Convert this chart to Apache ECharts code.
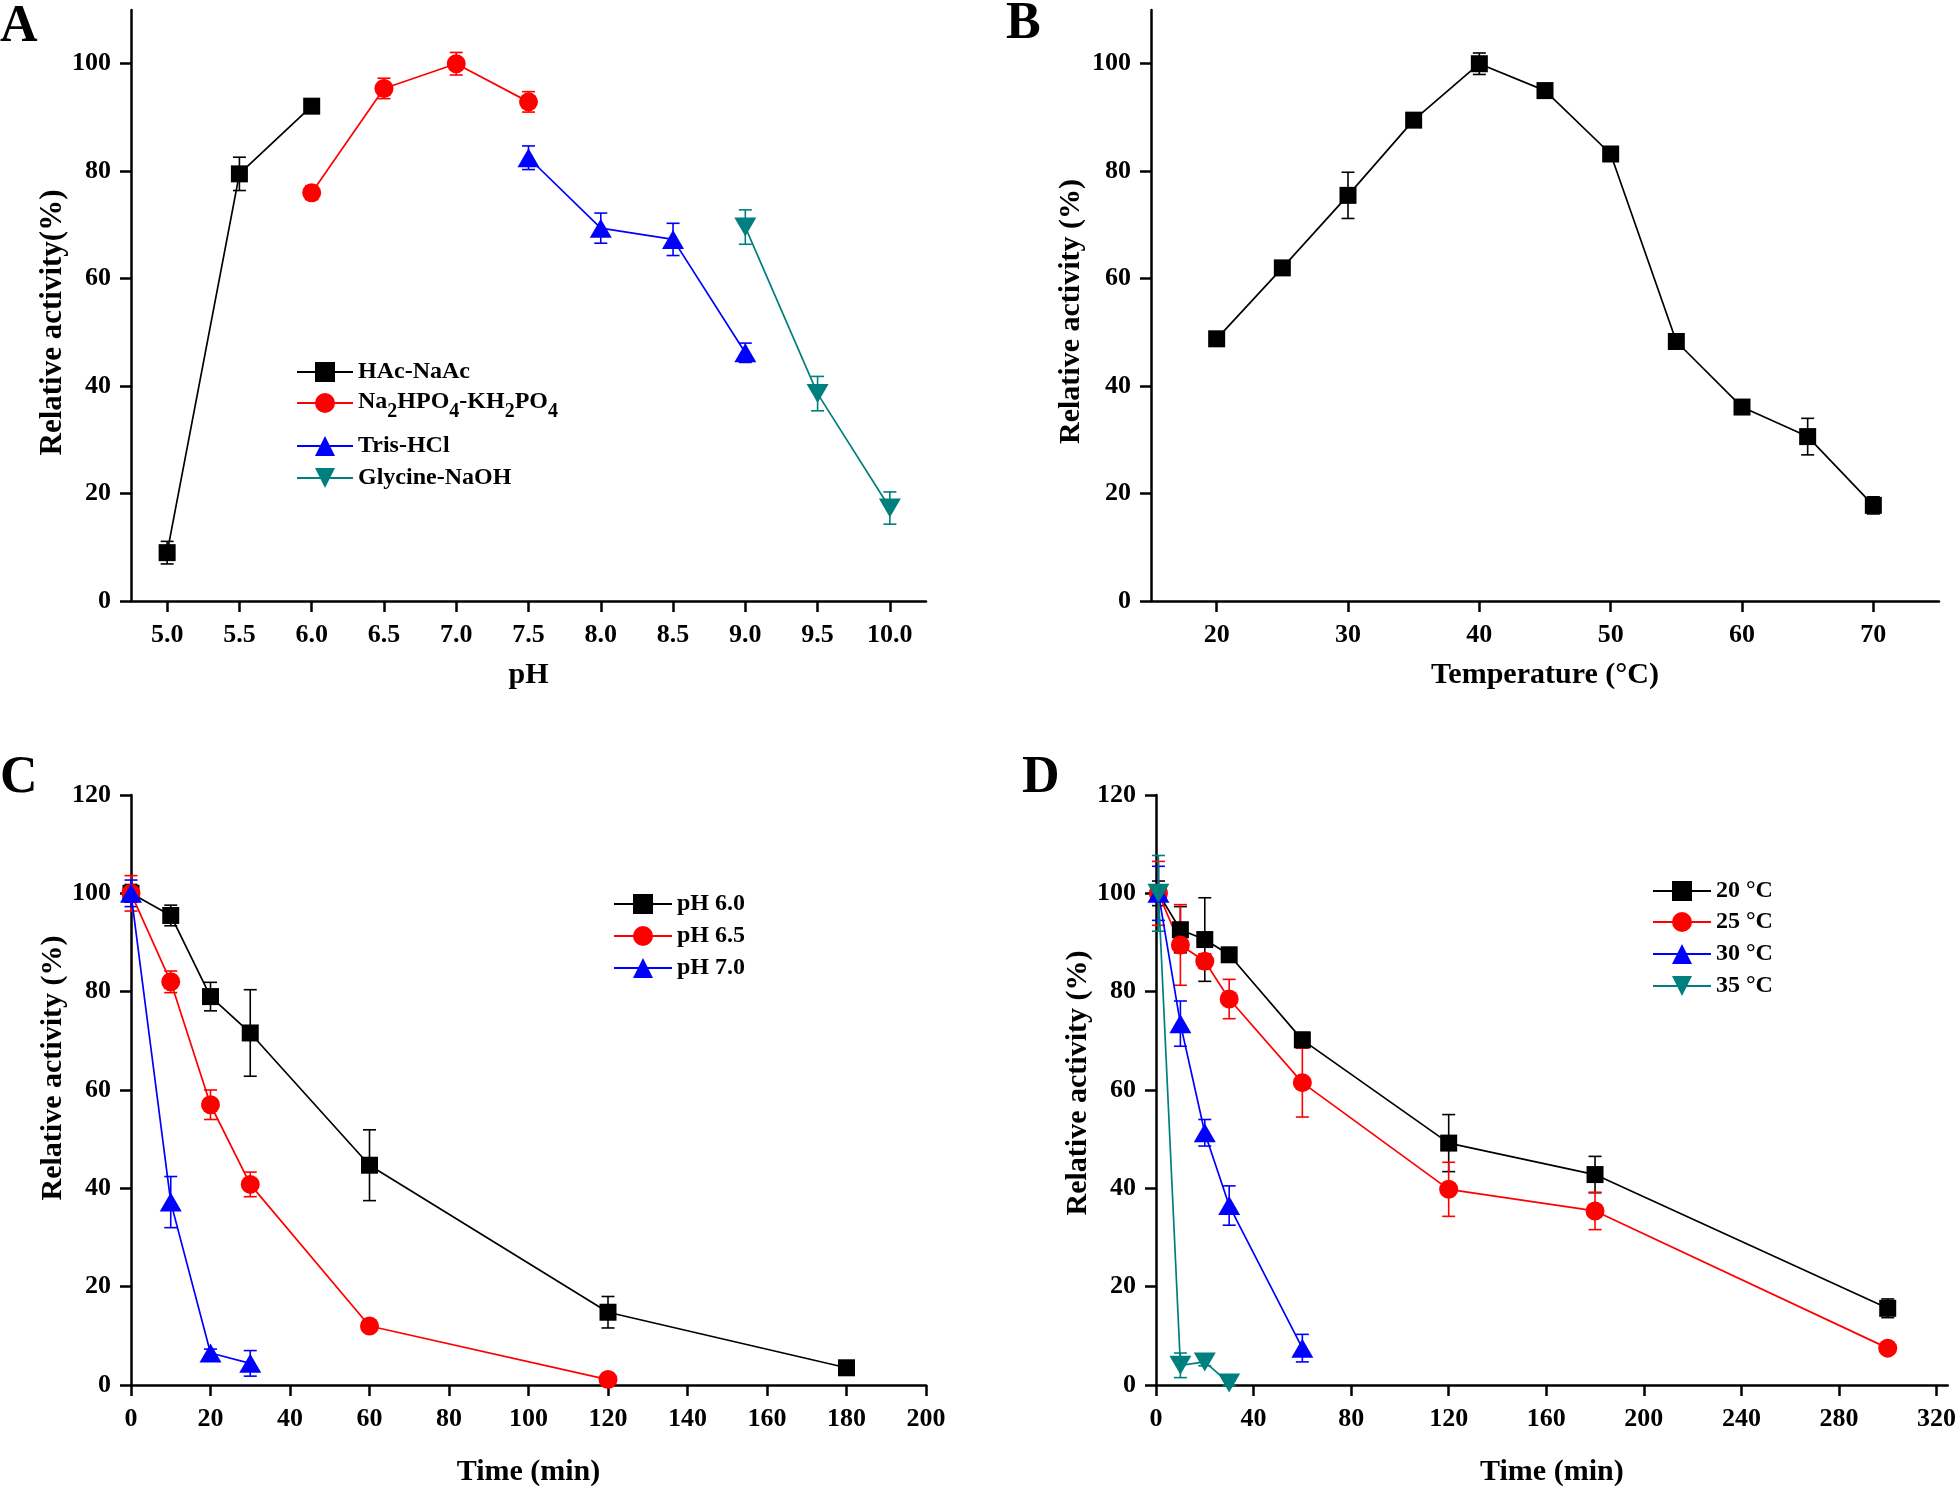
<!DOCTYPE html>
<html><head><meta charset="utf-8">
<script src="https://cdn.jsdelivr.net/npm/echarts@6/dist/echarts.min.js"></script>
<style>html,body{margin:0;padding:0;background:#fff}#c{width:1959px;height:1488px}</style>
</head><body><div id="c"></div>
<script>
// ---------- Panel A: pH ----------
const phTicks = [5.0, 5.5, 6.0, 6.5, 7.0, 7.5, 8.0, 8.5, 9.0, 9.5, 10.0];
const pctTicks110 = [0, 20, 40, 60, 80, 100];
const hacX = [5.0, 5.5, 6.0];
const hacY = [9.0, 79.5, 92.1];
const hacErr = [2.1, 3.1, 1.0];
const naX = [6.0, 6.5, 7.0, 7.5];
const naY = [76.0, 95.4, 100.0, 92.9];
const naErr = [1.3, 1.9, 2.1, 1.9];
const trisX = [7.5, 8.0, 8.5, 9.0];
const trisY = [82.5, 69.4, 67.3, 46.2];
const trisErr = [2.2, 2.8, 3.0, 1.8];
const glyX = [9.0, 9.5, 10.0];
const glyY = [69.6, 38.6, 17.3];
const glyErr = [3.2, 3.2, 3.0];
// ---------- Panel B: temperature ----------
const tempTicks = [20, 30, 40, 50, 60, 70];
const tempX = [20, 25, 30, 35, 40, 45, 50, 55, 60, 65, 70];
const tempY = [48.8, 62.0, 75.5, 89.5, 100.0, 95.0, 83.2, 48.3, 36.1, 30.6, 17.8];
const tempErr = [1.0, 1.0, 4.3, 1.0, 2.0, 1.0, 1.0, 1.0, 1.0, 3.4, 1.6];
// ---------- Panel C: pH stability ----------
const cTimeTicks = [0, 20, 40, 60, 80, 100, 120, 140, 160, 180, 200];
const ph60X = [0, 10, 20, 30, 60, 120, 180];
const ph60Y = [100, 95.5, 79.0, 71.6, 44.7, 14.8, 3.5];
const ph60Err = [1.8, 2.1, 2.9, 8.8, 7.2, 3.2, 0.8];
const ph65X = [0, 10, 20, 30, 60, 120];
const ph65Y = [100, 82.0, 57.0, 40.8, 12.0, 1.1];
const ph65Err = [3.6, 2.2, 3.0, 2.5, 0.8, 0.5];
const ph70X = [0, 10, 20, 30];
const ph70Y = [100, 37.2, 6.5, 4.4];
const ph70Err = [2.7, 5.2, 0.8, 2.6];
// ---------- Panel D: thermal stability ----------
const dTimeTicks = [0, 40, 80, 120, 160, 200, 240, 280, 320];
const t20X = [1, 10, 20, 30, 60, 120, 180, 300];
const t20Y = [100, 92.6, 90.6, 87.5, 70.2, 49.2, 42.8, 15.6];
const t20Err = [2.5, 4.7, 8.5, 1.0, 1.5, 5.8, 3.7, 1.9];
const t25X = [1, 10, 20, 30, 60, 120, 180, 300];
const t25Y = [100, 89.5, 86.2, 78.5, 61.5, 39.8, 35.4, 7.5];
const t25Err = [6.5, 8.2, 1.5, 4.0, 7.0, 5.5, 3.8, 0.5];
const t30X = [1, 10, 20, 30, 60];
const t30Y = [100, 73.5, 51.3, 36.5, 7.5];
const t30Err = [5.5, 4.6, 2.7, 4.0, 2.8];
const t35X = [1, 10, 20, 30];
const t35Y = [100, 4.0, 4.7, 0.4];
const t35Err = [7.7, 2.5, 0.8, 0.5];

const BLACK = '#000000', RED = '#ff0000', BLUE = '#0000ff', TEAL = '#007f7f';
const FONT = "'Liberation Serif', 'Times New Roman', serif";

function lineS(gi, name, xs, ys, color, symbol, size, rotate) {
  return {
    type: 'line', name: name, xAxisIndex: gi, yAxisIndex: gi,
    data: xs.map((x, i) => [x, ys[i]]),
    symbol: symbol, symbolSize: size, symbolRotate: rotate || 0, showAllSymbol: true,
    lineStyle: { color: color, width: 1.7 },
    itemStyle: { color: color, borderWidth: 0 },
    z: 3, animation: false
  };
}
function errS(gi, xs, ys, es, color) {
  return {
    type: 'custom', xAxisIndex: gi, yAxisIndex: gi, silent: true, z: 2, animation: false,
    data: xs.map((x, i) => [x, ys[i] - es[i], ys[i] + es[i]]),
    encode: { x: 0, y: [1, 2] },
    renderItem: function (params, api) {
      const x = api.value(0);
      const lo = api.coord([x, api.value(1)]);
      const hi = api.coord([x, api.value(2)]);
      const w = 6.5;
      const st = { stroke: color, lineWidth: 1.6, fill: null };
      return { type: 'group', children: [
        { type: 'line', shape: { x1: lo[0], y1: lo[1], x2: hi[0], y2: hi[1] }, style: st },
        { type: 'line', shape: { x1: lo[0] - w, y1: lo[1], x2: lo[0] + w, y2: lo[1] }, style: st },
        { type: 'line', shape: { x1: hi[0] - w, y1: hi[1], x2: hi[0] + w, y2: hi[1] }, style: st }
      ]};
    }
  };
}
function axisBase() {
  return {
    type: 'value',
    axisLine: { show: true, onZero: false, lineStyle: { color: BLACK, width: 2.5 } },
    axisTick: { show: true, length: 11, lineStyle: { color: BLACK, width: 2.5 } },
    splitLine: { show: false },
    axisLabel: { color: BLACK, fontFamily: FONT, fontWeight: 'bold', fontSize: 26 },
    nameLocation: 'middle',
    nameTextStyle: { color: BLACK, fontFamily: FONT, fontWeight: 'bold', fontSize: 30 }
  };
}
function xAx(gi, min, max, ticks, fmt, name, gap) {
  const a = axisBase();
  a.gridIndex = gi; a.min = min; a.max = max; a.name = name; a.nameGap = gap;
  a.axisLabel.margin = 21;
  if (ticks) { a.axisLabel.customValues = ticks; a.axisTick.customValues = ticks; }
  if (fmt) a.axisLabel.formatter = fmt;
  return a;
}
function yAx(gi, max, ticks, name, gap, pad, fs) {
  const a = axisBase();
  a.gridIndex = gi; a.min = 0; a.max = max; a.name = name; a.nameGap = gap;
  a.axisLabel.margin = 20;
  a.axisLabel.customValues = ticks; a.axisTick.customValues = ticks;
  a.nameTextStyle.padding = pad;
  if (fs) a.nameTextStyle.fontSize = fs;
  return a;
}
function legendItem(name, left, top, itemWidth, extra) {
  const l = {
    data: [name], left: left, top: top, orient: 'vertical', padding: 0,
    itemWidth: itemWidth, itemHeight: 25, itemGap: 0, selectedMode: false,
    textStyle: { color: BLACK, fontFamily: FONT, fontWeight: 'bold', fontSize: 24 }
  };
  if (extra) Object.assign(l, extra);
  return l;
}

const richNa = {
  n: { fontFamily: FONT, fontWeight: 'bold', fontSize: 24, color: BLACK, verticalAlign: 'top', lineHeight: 26 },
  s: { fontFamily: FONT, fontWeight: 'bold', fontSize: 20, color: BLACK, verticalAlign: 'top', lineHeight: 22, padding: [12, 0, 0, 0] }
};
const letterStyle = { fontFamily: FONT, fontWeight: 'bold', fontSize: 52, color: BLACK };

const chart = echarts.init(document.getElementById('c'), null, { renderer: 'canvas' });
const option = {
  backgroundColor: '#ffffff',
  animation: false,
  title: [
    { text: 'A', left: 0, top: 2, padding: 0, textStyle: letterStyle },
    { text: 'B', left: 1006, top: -1, padding: 0, textStyle: letterStyle },
    { text: 'C', left: 0, top: 753, padding: 0, textStyle: letterStyle },
    { text: 'D', left: 1022, top: 753, padding: 0, textStyle: letterStyle }
  ],
  grid: [
    { left: 131, top: 10, width: 795, height: 591 },
    { left: 1151, top: 10, width: 788, height: 591 },
    { left: 131, top: 795, width: 795, height: 590 },
    { left: 1156, top: 795, width: 794, height: 590 }
  ],
  xAxis: [
    xAx(0, 4.75, 10.25, phTicks, v => v.toFixed(1), 'pH', 59),
    xAx(1, 15, 75, tempTicks, null, 'Temperature (°C)', 59),
    xAx(2, 0, 200, cTimeTicks, null, 'Time (min)', 72),
    xAx(3, 0, 324.6, dTimeTicks, null, 'Time (min)', 72)
  ],
  yAxis: [
    yAx(0, 110, pctTicks110, 'Relative activity(%)', 63, [0, 34, 0, 0], 31),
    yAx(1, 110, pctTicks110, 'Relative activity (%)', 65, [0, 12, 0, 0]),
    yAx(2, 120, [0, 20, 40, 60, 80, 100, 120], 'Relative activity (%)', 58, [0, 0, 0, 44]),
    yAx(3, 120, [0, 20, 40, 60, 80, 100, 120], 'Relative activity (%)', 63, [0, 0, 0, 14])
  ],
  legend: [
    legendItem('HAc-NaAc', 296, 360, 56),
    legendItem('Na2HPO4-KH2PO4', 296, 390, 56, {
      formatter: () => '{n|Na}{s|2}{n|HPO}{s|4}{n|-KH}{s|2}{n|PO}{s|4}',
      textStyle: { color: BLACK, fontFamily: FONT, fontWeight: 'bold', fontSize: 24, rich: richNa }
    }),
    legendItem('Tris-HCl', 296, 434, 56),
    legendItem('Glycine-NaOH', 296, 466, 56),
    legendItem('pH 6.0', 613, 892, 58),
    legendItem('pH 6.5', 613, 924, 58),
    legendItem('pH 7.0', 613, 956, 58),
    legendItem('20 °C', 1652, 879, 58),
    legendItem('25 °C', 1652, 910, 58),
    legendItem('30 °C', 1652, 942, 58),
    legendItem('35 °C', 1652, 974, 58)
  ],
  series: [
    errS(0, hacX, hacY, hacErr, BLACK),
    errS(0, naX, naY, naErr, RED),
    errS(0, trisX, trisY, trisErr, BLUE),
    errS(0, glyX, glyY, glyErr, TEAL),
    lineS(0, 'HAc-NaAc', hacX, hacY, BLACK, 'rect', 17),
    lineS(0, 'Na2HPO4-KH2PO4', naX, naY, RED, 'circle', 19),
    lineS(0, 'Tris-HCl', trisX, trisY, BLUE, 'triangle', [22, 19]),
    lineS(0, 'Glycine-NaOH', glyX, glyY, TEAL, 'triangle', [22, 19], 180),

    errS(1, tempX, tempY, tempErr, BLACK),
    lineS(1, 'temp', tempX, tempY, BLACK, 'rect', 17),

    errS(2, ph60X, ph60Y, ph60Err, BLACK),
    errS(2, ph65X, ph65Y, ph65Err, RED),
    errS(2, ph70X, ph70Y, ph70Err, BLUE),
    lineS(2, 'pH 6.0', ph60X, ph60Y, BLACK, 'rect', 17),
    lineS(2, 'pH 6.5', ph65X, ph65Y, RED, 'circle', 19),
    lineS(2, 'pH 7.0', ph70X, ph70Y, BLUE, 'triangle', [22, 19]),

    errS(3, t20X, t20Y, t20Err, BLACK),
    errS(3, t25X, t25Y, t25Err, RED),
    errS(3, t30X, t30Y, t30Err, BLUE),
    errS(3, t35X, t35Y, t35Err, TEAL),
    lineS(3, '20 °C', t20X, t20Y, BLACK, 'rect', 17),
    lineS(3, '25 °C', t25X, t25Y, RED, 'circle', 19),
    lineS(3, '30 °C', t30X, t30Y, BLUE, 'triangle', [22, 19]),
    lineS(3, '35 °C', t35X, t35Y, TEAL, 'triangle', [22, 19], 180)
  ]
};
chart.setOption(option);
</script>
</body></html>
